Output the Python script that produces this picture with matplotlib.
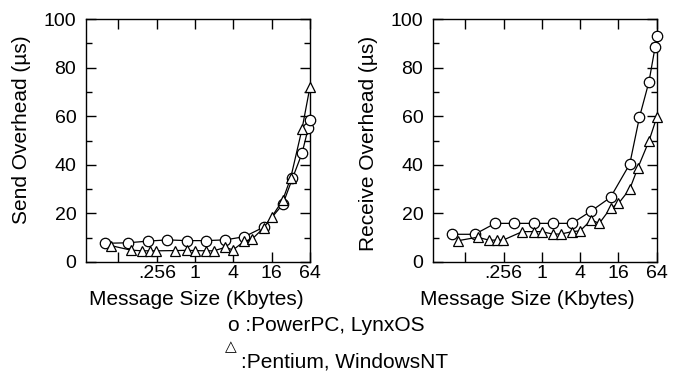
import matplotlib
matplotlib.use('Agg')
import matplotlib.pyplot as plt

plt.rcParams['font.family'] = ['Liberation Sans', 'DejaVu Sans']

# message sizes (Kbytes)
ppc_size = [0.04, 0.09, 0.1875, 0.375, 0.75, 1.5, 3, 6, 12, 24, 34, 48, 60, 64]
nt_size = [0.05, 0.1, 0.15, 0.2, 0.25, 0.5, 0.75, 1, 1.5, 2, 3, 4, 6, 8, 12, 16, 24, 32, 48, 64]

# send overhead (us)
ppc_send = [7.7, 7.9, 8.6, 9.1, 8.8, 8.8, 9.1, 10.4, 14.3, 23.7, 34.4, 44.7, 55.0, 58.4]
nt_send = [6.7, 4.9, 4.6, 4.6, 4.6, 4.7, 4.8, 4.7, 4.6, 4.6, 6.0, 5.0, 8.5, 9.5, 14.0, 18.4, 25.5, 34.7, 54.7, 72.1]

# receive overhead (us)
ppc_recv = [11.4, 11.4, 15.9, 15.9, 15.9, 15.9, 15.9, 21.0, 26.6, 40.3, 59.5, 74.2, 88.6, 93.1]
nt_recv = [8.8, 10.2, 9.0, 9.0, 9.0, 12.5, 12.5, 12.5, 11.5, 11.5, 12.5, 12.8, 17.3, 15.9, 22.1, 24.1, 30.0, 38.6, 49.8, 59.8]

xticks = [0.064, 0.256, 1, 4, 16, 64]
xtick_labels = ['', '.256', '1', '4', '16', '64']

fig = plt.figure(figsize=(6.81, 3.72), dpi=100)
ax1 = fig.add_axes([0.1263, 0.2957, 0.3289, 0.6532])
ax2 = fig.add_axes([0.6358, 0.2957, 0.3289, 0.6532])

for ax, ppc, nt in [(ax1, ppc_send, nt_send), (ax2, ppc_recv, nt_recv)]:
    ax.plot(ppc_size, ppc, '-o', color='black', lw=0.9, ms=7.5,
            mfc='white', mec='black', mew=0.9, clip_on=False, zorder=3)
    ax.plot(nt_size, nt, '-^', color='black', lw=0.9, ms=7.5,
            mfc='white', mec='black', mew=0.9, clip_on=False, zorder=3)
    ax.set_xscale('log')
    ax.set_xlim(0.02, 64)
    ax.set_ylim(0, 100)
    ax.set_xticks(xticks)
    ax.set_xticklabels(xtick_labels)
    ax.minorticks_off()
    ax.set_yticks([0, 20, 40, 60, 80, 100])
    ax.set_yticks([10, 30, 50, 70, 90], minor=True)
    ax.tick_params(which='both', direction='in', top=True, right=True,
                   labelsize=14, width=1)
    ax.tick_params(which='major', length=7)
    ax.tick_params(which='minor', length=4)
    ax.tick_params(axis='x', pad=2)
    ax.tick_params(axis='y', pad=7)
    for s in ax.spines.values():
        s.set_linewidth(1.0)

fig.text(0.289, 0.194, 'Message Size (Kbytes)', ha='center', va='center', fontsize=15)
fig.text(0.774, 0.194, 'Message Size (Kbytes)', ha='center', va='center', fontsize=15)
fig.text(0.032, 0.651, 'Send Overhead (\u00b5s)', rotation=90, ha='center', va='center', fontsize=15)
fig.text(0.541, 0.615, 'Receive Overhead (\u00b5s)', rotation=90, ha='center', va='center', fontsize=15)

# legend text
fig.text(228 / 681, 0.124, 'o :PowerPC, LynxOS', ha='left', va='center', fontsize=15)
fig.text(231 / 681, 1 - 347 / 372, '\u25b3', ha='center', va='center', fontsize=11,
         family='DejaVu Sans')
fig.text(241 / 681, 1 - 362 / 372, ':Pentium, WindowsNT', ha='left', va='center', fontsize=15)

fig.savefig('out.png', dpi=100)
